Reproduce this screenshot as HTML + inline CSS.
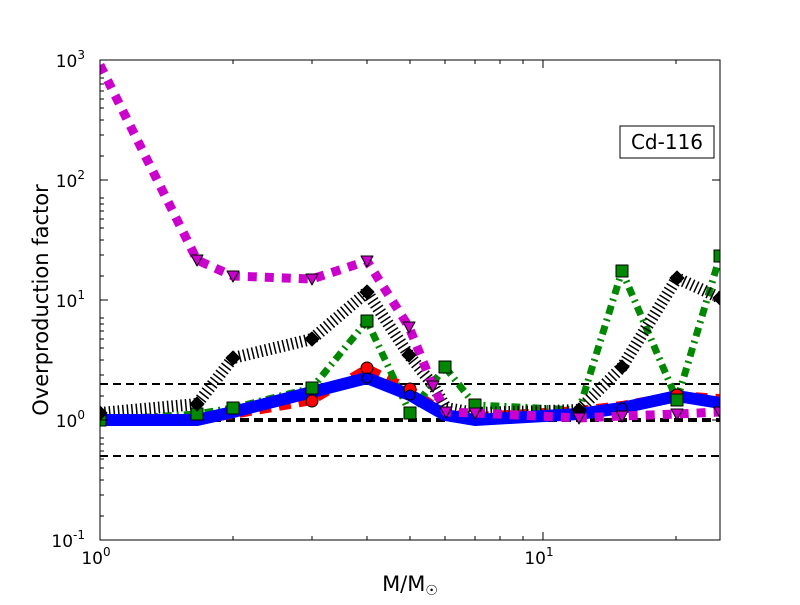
<!DOCTYPE html>
<html><head><style>body{margin:0;background:#fff}svg{font-family:"DejaVu Sans","Liberation Sans",sans-serif}</style></head><body>
<svg width="800" height="600" viewBox="0 0 800 600">
<rect width="800" height="600" fill="#fff"/>
<defs><clipPath id="c"><rect x="100" y="60" width="620" height="480"/></clipPath></defs>
<g clip-path="url(#c)" fill="none" stroke-linejoin="round">
<line x1="100" y1="384" x2="720" y2="384" stroke="#000" stroke-width="2" stroke-dasharray="8,5"/>
<line x1="100" y1="420" x2="720" y2="420" stroke="#000" stroke-width="4" stroke-dasharray="9,5"/>
<line x1="100" y1="456" x2="720" y2="456" stroke="#000" stroke-width="2" stroke-dasharray="8,5"/>
<polyline stroke="#f00" stroke-width="8" stroke-dasharray="12,8" points="100,420 197,420 233,415 312,401 367,368 410,389 445,413 475,416 579,410 622,405 677,395 720,398"/>
<polyline stroke="#080" stroke-width="7" stroke-dasharray="9,5,2,5" points="100,420 197,414 233,408 312,388 367,321 410,413 445,367 475,405 579,410 622,271 677,400 720,256"/>
<polyline stroke="#000" stroke-width="12" stroke-dasharray="1.5,3" points="100,413 197,404 233,358 312,339 367,292 409,355 433,385 446,408 475,413 579,410 622,367 677,278 720,298"/>
<polyline stroke="#00f" stroke-width="12" points="100,420 197,420 233,412 312,392 367,378 410,395 445,415 475,420 579,414 622,408 677,396 720,403"/>
<polyline stroke="#c0c" stroke-width="9" stroke-dasharray="9,8" points="100,65 197,260 233,276 312,279 367,261 409,327 433,386 446,412 475,413 579,418 622,416 677,414 720,412"/>
<g fill="#f00" stroke="#000"><circle cx="312" cy="401" r="6"/><circle cx="367" cy="368" r="6"/><circle cx="410" cy="389" r="6"/><circle cx="677" cy="395" r="6"/></g>
<g fill="#00f" stroke="#000"><circle cx="367" cy="378" r="5"/><circle cx="410" cy="395" r="5"/><circle cx="622" cy="408" r="5"/></g>
<g fill="#080" stroke="#000"><rect x="94" y="414" width="12" height="12"/><rect x="191" y="408" width="12" height="12"/><rect x="227" y="402" width="12" height="12"/><rect x="306" y="382" width="12" height="12"/><rect x="361" y="315" width="12" height="12"/><rect x="404" y="407" width="12" height="12"/><rect x="439" y="361" width="12" height="12"/><rect x="469" y="399" width="12" height="12"/><rect x="616" y="265" width="12" height="12"/><rect x="671" y="394" width="12" height="12"/><rect x="714" y="250" width="12" height="12"/></g>
<g fill="#000" stroke="#000"><path d="M100,406l7,7l-7,7l-7,-7z"/><path d="M197,397l7,7l-7,7l-7,-7z"/><path d="M233,351l7,7l-7,7l-7,-7z"/><path d="M312,332l7,7l-7,7l-7,-7z"/><path d="M367,285l7,7l-7,7l-7,-7z"/><path d="M409,348l7,7l-7,7l-7,-7z"/><path d="M579,403l7,7l-7,7l-7,-7z"/><path d="M622,360l7,7l-7,7l-7,-7z"/><path d="M677,271l7,7l-7,7l-7,-7z"/><path d="M720,291l7,7l-7,7l-7,-7z"/></g>
<g fill="#c0c" stroke="#000"><path d="M191,255h12l-6,11z"/><path d="M227,271h12l-6,11z"/><path d="M306,274h12l-6,11z"/><path d="M361,256h12l-6,11z"/><path d="M403,322h12l-6,11z"/><path d="M427,381h12l-6,11z"/><path d="M440,407h12l-6,11z"/><path d="M469,408h12l-6,11z"/><path d="M573,413h12l-6,11z"/><path d="M616,411h12l-6,11z"/><path d="M671,409h12l-6,11z"/><path d="M714,407h12l-6,11z"/></g>
</g>
<rect x="100" y="60" width="620" height="480" fill="none" stroke="#000" stroke-width="1"/>
<g stroke="#000" stroke-width="1">
<path d="M100,60h8M100,180h8M100,300h8M100,420h8M100,540h8M720,60h-8M720,180h-8M720,300h-8M720,420h-8M720,540h-8M543,540v-8M543,60v8"/>
<path d="M100,156h4M100,135h4M100,120h4M100,108h4M100,99h4M100,91h4M100,84h4M100,78h4M100,276h4M100,255h4M100,240h4M100,228h4M100,219h4M100,211h4M100,204h4M100,198h4M100,396h4M100,375h4M100,360h4M100,348h4M100,339h4M100,331h4M100,324h4M100,318h4M100,516h4M100,495h4M100,480h4M100,468h4M100,459h4M100,451h4M100,444h4M100,438h4"/>
<path d="M233,540v-4M312,540v-4M367,540v-4M410,540v-4M445,540v-4M475,540v-4M500,540v-4M523,540v-4M676,540v-4M233,60v4M312,60v4M367,60v4M410,60v4M445,60v4M475,60v4M500,60v4M523,60v4M676,60v4"/>
</g>
<g font-size="17" fill="#000" text-anchor="end">
<text x="85" y="67">10<tspan font-size="12" dy="-8">3</tspan></text>
<text x="85" y="187">10<tspan font-size="12" dy="-8">2</tspan></text>
<text x="85" y="307">10<tspan font-size="12" dy="-8">1</tspan></text>
<text x="85" y="427">10<tspan font-size="12" dy="-8">0</tspan></text>
<text x="85" y="547">10<tspan font-size="12" dy="-8">-1</tspan></text>
</g>
<g font-size="17" text-anchor="middle"><text x="96" y="564">10<tspan font-size="12" dy="-8">0</tspan></text><text x="539" y="564">10<tspan font-size="12" dy="-8">1</tspan></text></g>
<text x="410" y="591" font-size="21" text-anchor="middle">M/M<tspan font-size="14" dy="4">☉</tspan></text>
<text transform="translate(48,300) rotate(-90)" font-size="21" text-anchor="middle">Overproduction factor</text>
<rect x="620" y="126" width="94" height="32" fill="#fff" stroke="#000"/>
<text x="667" y="149" font-size="20" text-anchor="middle">Cd-116</text>
</svg>
</body></html>
